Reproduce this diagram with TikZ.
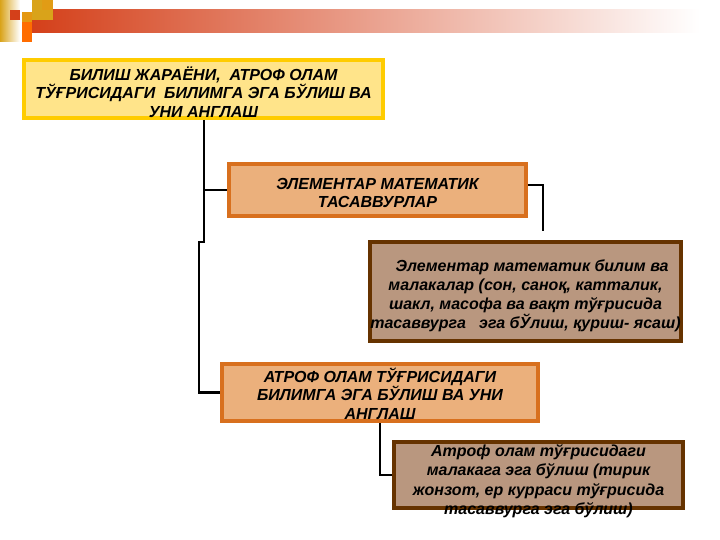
\documentclass[tikz,border=0pt]{standalone}
\usepackage{fontspec}
\setmainfont{Liberation Sans}
\usetikzlibrary{calc}
\definecolor{barred}{HTML}{D4401A}
\definecolor{gold}{HTML}{D9A31A}
\definecolor{yfill}{HTML}{FFE48A}
\definecolor{yline}{HTML}{FFCC00}
\definecolor{ofill}{HTML}{EBB07C}
\definecolor{oline}{HTML}{D8701E}
\definecolor{bfill}{HTML}{B9977F}
\definecolor{bline}{HTML}{663300}
\tikzset{
  boxtext/.style={font=\fontsize{16}{18.3}\selectfont\bfseries\itshape, align=center, inner sep=0pt},
  ybox/.style={draw=yline, fill=yfill, line width=4pt},
  obox/.style={draw=oline, fill=ofill, line width=4pt},
  bbox/.style={draw=bline, fill=bfill, line width=4pt},
  conn/.style={draw=black, line width=2.4pt}
}
\begin{document}
\begin{tikzpicture}[x=1pt,y=-1pt]
\useasboundingbox (0,0) rectangle (720,540);
% header decoration
\shade[left color=barred, right color=white] (32,10) rectangle (700,33);
\shade[left color=gold, right color=white] (0,0) rectangle (20,42);
\fill[barred] (10,10) rectangle (20,20);
\fill[gold] (32,0) rectangle (53,20);
\fill[gold!80!orange] (42,0) rectangle (53,10);
\fill[orange!85!red] (22,22) rectangle (32,42);
\fill[gold!70!orange] (22,12) rectangle (32,22);
% boxes
\node[ybox, minimum width=359pt, minimum height=58pt] (b1) at (203.5,89) {};
\node[boxtext] (t1) at (203.5,92)
  {БИЛИШ ЖАРАЁНИ,\ \ АТРОФ ОЛАМ\\ТЎҒРИСИДАГИ\ \ БИЛИМГА ЭГА БЎЛИШ ВА\\УНИ АНГЛАШ};
\node[obox, minimum width=297pt, minimum height=52pt] (b2) at (377.5,190) {};
\node[boxtext] (t2) at (377.5,193)
  {ЭЛЕМЕНТАР МАТЕМАТИК\\ТАСАВВУРЛАР};
\node[bbox, minimum width=311pt, minimum height=99pt] (b3) at (525.5,291.5) {};
\node[boxtext, font=\fontsize{16}{19}\selectfont\bfseries\itshape] (t3) at (525.5,295.5)
  {\ \ \ Элементар математик билим ва\\малакалар (сон, саноқ, катталик,\\шакл, масофа ва вақт тўғрисида\\тасаввурга\ \ \ эга бЎлиш, қуриш- ясаш)};
\node[obox, minimum width=316pt, minimum height=57pt] (b4) at (380,392.5) {};
\node[boxtext] (t4) at (380,393.5)
  {АТРОФ ОЛАМ ТЎҒРИСИДАГИ\\БИЛИМГА ЭГА БЎЛИШ ВА УНИ\\АНГЛАШ};
\node[bbox, minimum width=289pt, minimum height=66pt] (b5) at (538.5,475) {};
\node[boxtext, font=\fontsize{16}{19.5}\selectfont\bfseries\itshape] (t5) at (538.5,481)
  {Атроф олам тўғрисидаги\\малакага эга бўлиш (тирик\\жонзот, ер курраси тўғрисида\\тасаввурга эга бўлиш)};
% connectors
\coordinate (j1) at (204,242);
\coordinate (j2) at (199,242);
\coordinate (e1) at (543,185);
\coordinate (e2) at (543,231);
\draw[conn] (b1.south -| j1) -- (j1) -- (j2) -- (j2 |- b4.west) -- (b4.west);
\draw[conn] (b2.west -| j1) -- (b2.west);
\draw[conn] (b2.east |- e1) -- (e1) -- (e2);
\draw[conn] (b4.south) -- (b4.south |- b5.west) -- (b5.west);
\end{tikzpicture}
\end{document}
